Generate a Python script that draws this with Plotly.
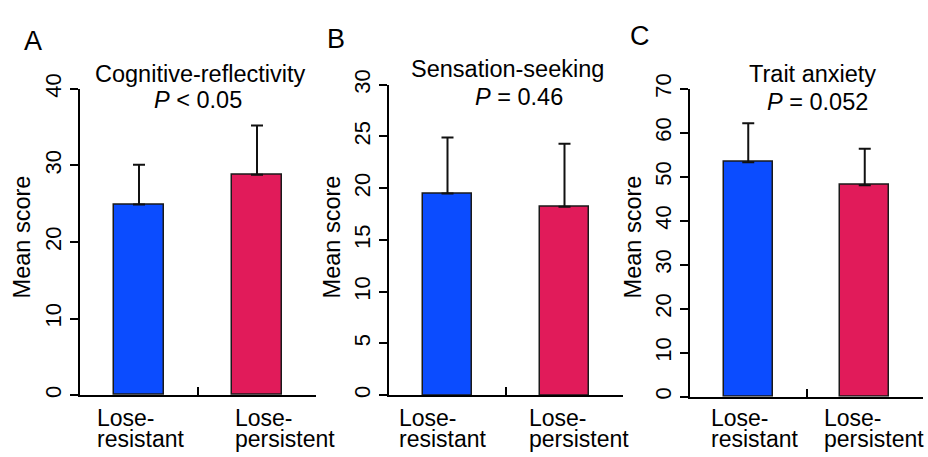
import plotly.graph_objects as go

# ---------------- data ----------------
panel_letters = ["A", "B", "C"]
panel_titles = ["Cognitive-reflectivity", "Sensation-seeking", "Trait anxiety"]
panel_pvalues = ["<i>P</i> &lt; 0.05", "<i>P</i> = 0.46", "<i>P</i> = 0.052"]
categories = ["Lose-resistant", "Lose-persistent"]
means_A = [24.9, 28.8]
sd_A = [5.2, 6.4]
means_B = [19.5, 18.2]
sd_B = [5.4, 6.1]
means_C = [53.3, 48.1]
sd_C = [8.9, 8.3]
y_max = [40, 30, 70]
y_step = [10, 5, 10]
bar_colors = ["#0B4CFF", "#E11B5A"]

means = [means_A, means_B, means_C]
sds = [sd_A, sd_B, sd_C]

W, H = 928, 457
FONT = "Liberation Sans, Arial, sans-serif"

def px(x):
    return x / W

def py(y):
    return 1 - y / H

# layout geometry (pixels)
x_dom = [(80, 316), (389, 623), (690, 923)]
y_dom = [(395.7, 76), (395.7, 71.7), (397.3, 76)]
letter_pos = [(33, 26), (336, 24), (640, 21)]
title_pos = [(200, 60.5), (507, 55.5), (812, 60.5)]
p_pos = [(198, 87.5), (519, 84.5), (817, 89.5)]
ytitle_x = [22, 332, 633]
ytitle_y = 231
label_left = [(95, 233), (397, 527), (709, 822)]
label_y = (419, 441)

fig = go.Figure()
annotations = []

for i in range(3):
    ax = "" if i == 0 else str(i + 1)
    fig.add_trace(go.Bar(
        x=[1, 2], y=means[i],
        width=0.42,
        marker=dict(color=bar_colors, line=dict(color="#1a1a1a", width=1.5)),
        error_y=dict(type="data", array=sds[i], arrayminus=[0, 0], symmetric=False,
                     color="#111111", thickness=2, width=6),
        xaxis="x" + ax, yaxis="y" + ax, showlegend=False,
    ))
    x0, x1 = x_dom[i]
    yb, yt = y_dom[i]
    fig.layout["xaxis" + ax] = dict(
        domain=[px(x0), px(x1)], range=[0.5, 2.5], anchor="y" + ax,
        tickmode="array", tickvals=[0.5, 1.5, 2.5], ticks="inside", ticklen=8,
        tickwidth=2, tickcolor="black", showticklabels=False,
        showline=True, linewidth=2, linecolor="black", showgrid=False, zeroline=False,
        fixedrange=True,
    )
    fig.layout["yaxis" + ax] = dict(
        domain=[py(yb), py(yt)], range=[0, y_max[i]], anchor="x" + ax,
        dtick=y_step[i], tick0=0, ticks="outside", ticklen=8, tickwidth=2,
        tickcolor="black", tickangle=-90,
        tickfont=dict(family=FONT, size=22, color="black"),
        showline=True, linewidth=2, linecolor="black", showgrid=False, zeroline=False,
        fixedrange=True,
    )
    # panel letter
    annotations.append(dict(text=panel_letters[i], x=px(letter_pos[i][0]), y=py(letter_pos[i][1]),
                            xref="paper", yref="paper", showarrow=False,
                            xanchor="center", yanchor="middle",
                            font=dict(family=FONT, size=27, color="black")))
    # titles
    annotations.append(dict(text=panel_titles[i], x=px(title_pos[i][0]), y=py(title_pos[i][1]),
                            xref="paper", yref="paper", showarrow=False,
                            xanchor="center", yanchor="middle",
                            font=dict(family=FONT, size=23.5, color="black")))
    annotations.append(dict(text=panel_pvalues[i], x=px(p_pos[i][0]), y=py(p_pos[i][1]),
                            xref="paper", yref="paper", showarrow=False,
                            xanchor="center", yanchor="middle",
                            font=dict(family=FONT, size=23.5, color="black")))
    # y title
    annotations.append(dict(text="Mean score", x=px(ytitle_x[i]), y=py(ytitle_y),
                            xref="paper", yref="paper", showarrow=False, textangle=-90,
                            xanchor="center", yanchor="middle",
                            font=dict(family=FONT, size=23.5, color="black")))
    # category labels (two tight lines, left aligned)
    for j, cat in enumerate(categories):
        first, rest = cat.split("-", 1)
        for k, line in enumerate([first + "-", rest]):
            annotations.append(dict(text=line, x=px(label_left[i][j]), y=py(label_y[k]),
                                    xref="paper", yref="paper", showarrow=False,
                                    xanchor="left", yanchor="middle",
                                    font=dict(family=FONT, size=23, color="black")))

fig.update_layout(
    width=W, height=H, margin=dict(l=0, r=0, t=0, b=0),
    paper_bgcolor="white", plot_bgcolor="white",
    annotations=annotations, bargap=0,
    font=dict(family=FONT, color="black"),
)

fig.write_html("out.html", config={"displayModeBar": False})
